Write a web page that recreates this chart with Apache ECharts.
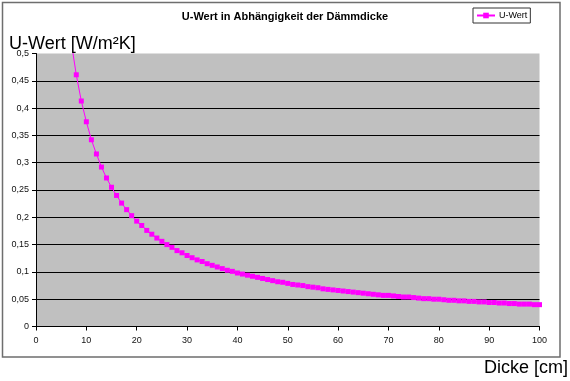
<!DOCTYPE html>
<html>
<head>
<meta charset="utf-8">
<script src="https://cdn.jsdelivr.net/npm/echarts@6/dist/echarts.min.js"></script>
<style>html,body{margin:0;padding:0;background:#fff;}#c{width:570px;height:381px;}</style>
</head>
<body>
<div id="c"></div>
<script>
var chartTitle = 'U-Wert in Abhängigkeit der Dämmdicke';
var seriesName = 'U-Wert';
var yAxisTitle = 'U-Wert [W/m²K]';
var xAxisTitle = 'Dicke [cm]';
var thickness = [7,8,9,10,11,12,13,14,15,16,17,18,19,20,21,22,23,24,25,26,27,28,29,30,31,32,33,34,35,36,37,38,39,40,41,42,43,44,45,46,47,48,49,50,51,52,53,54,55,56,57,58,59,60,61,62,63,64,65,66,67,68,69,70,71,72,73,74,75,76,77,78,79,80,81,82,83,84,85,86,87,88,89,90,91,92,93,94,95,96,97,98,99,100];
var uValue = [0.521,0.461,0.413,0.375,0.342,0.316,0.292,0.272,0.255,0.240,0.226,0.214,0.203,0.193,0.185,0.176,0.169,0.162,0.156,0.150,0.145,0.139,0.135,0.130,0.126,0.122,0.119,0.115,0.112,0.109,0.106,0.103,0.101,0.098,0.096,0.094,0.092,0.090,0.088,0.086,0.084,0.082,0.081,0.079,0.077,0.076,0.075,0.073,0.072,0.071,0.069,0.068,0.067,0.066,0.065,0.064,0.063,0.062,0.061,0.060,0.059,0.058,0.057,0.057,0.056,0.055,0.054,0.054,0.053,0.052,0.051,0.051,0.050,0.050,0.049,0.048,0.048,0.047,0.047,0.046,0.046,0.045,0.045,0.044,0.044,0.043,0.043,0.042,0.042,0.041,0.041,0.041,0.040,0.040];
var yTickLabels = ['0','0,05','0,1','0,15','0,2','0,25','0,3','0,35','0,4','0,45','0,5'];
var xTickLabels = ['0','10','20','30','40','50','60','70','80','90','100'];

var data = thickness.map(function (d, i) { return [d, uValue[i]]; });
var font = '"Liberation Sans", Arial, sans-serif';

var chart = echarts.init(document.getElementById('c'), null, {renderer: 'canvas'});
chart.setOption({
  animation: false,
  backgroundColor: '#fff',
  textStyle: {fontFamily: font},
  graphic: [{
    type: 'rect', z: -1,
    shape: {x: 2.5, y: 2.5, width: 557.5, height: 354.5},
    style: {fill: 'none', stroke: '#6e6e6e', lineWidth: 1.5}
  }],
  title: [
    {text: chartTitle, left: 'center', top: 11, padding: 0,
     textStyle: {fontSize: 11, fontWeight: 'bold', color: '#000', fontFamily: font}},
    {text: yAxisTitle, left: 9, top: 35, padding: 0, z: 10,
     textStyle: {fontSize: 18, fontWeight: 'normal', color: '#000', fontFamily: font}},
    {text: xAxisTitle, right: 2, top: 359, padding: 0,
     textStyle: {fontSize: 18, fontWeight: 'normal', color: '#000', fontFamily: font}}
  ],
  legend: {
    left: 473, top: 8, padding: [3, 3, 3, 3],
    borderColor: '#333', borderWidth: 1, backgroundColor: '#fff',
    itemWidth: 18, itemHeight: 7, itemGap: 5,
    textStyle: {fontSize: 9, color: '#000', fontFamily: font, padding: [0, 0, 0, -1]},
    data: [seriesName]
  },
  grid: {
    left: 36, right: 30.5, top: 53.5, bottom: 54.5,
    show: true, backgroundColor: '#c0c0c0', borderWidth: 0
  },
  xAxis: {
    type: 'value', min: 0, max: 100, interval: 10,
    axisLine: {show: true, lineStyle: {color: '#000', width: 1}},
    axisTick: {show: true, inside: false, length: 4, lineStyle: {color: '#000'}},
    axisLabel: {fontSize: 9, color: '#111', margin: 10, fontFamily: font,
      formatter: function (v) { return xTickLabels[Math.round(v / 10)]; }},
    splitLine: {show: false}
  },
  yAxis: {
    type: 'value', min: 0, max: 0.5, interval: 0.05,
    axisLine: {show: true, lineStyle: {color: '#000', width: 1}},
    axisTick: {show: true, inside: false, length: 4, lineStyle: {color: '#000'}},
    axisLabel: {fontSize: 9, color: '#111', margin: 7, fontFamily: font,
      formatter: function (v) { return yTickLabels[Math.round(v / 0.05)]; }},
    splitLine: {show: true, showMaxLine: false, lineStyle: {color: '#000', width: 1}}
  },
  series: [{
    name: seriesName,
    type: 'line',
    data: data,
    clip: true,
    symbol: 'rect',
    symbolSize: 5,
    lineStyle: {color: '#ff00ff', width: 1},
    itemStyle: {color: '#ff00ff'}
  }]
});
</script>
</body>
</html>
